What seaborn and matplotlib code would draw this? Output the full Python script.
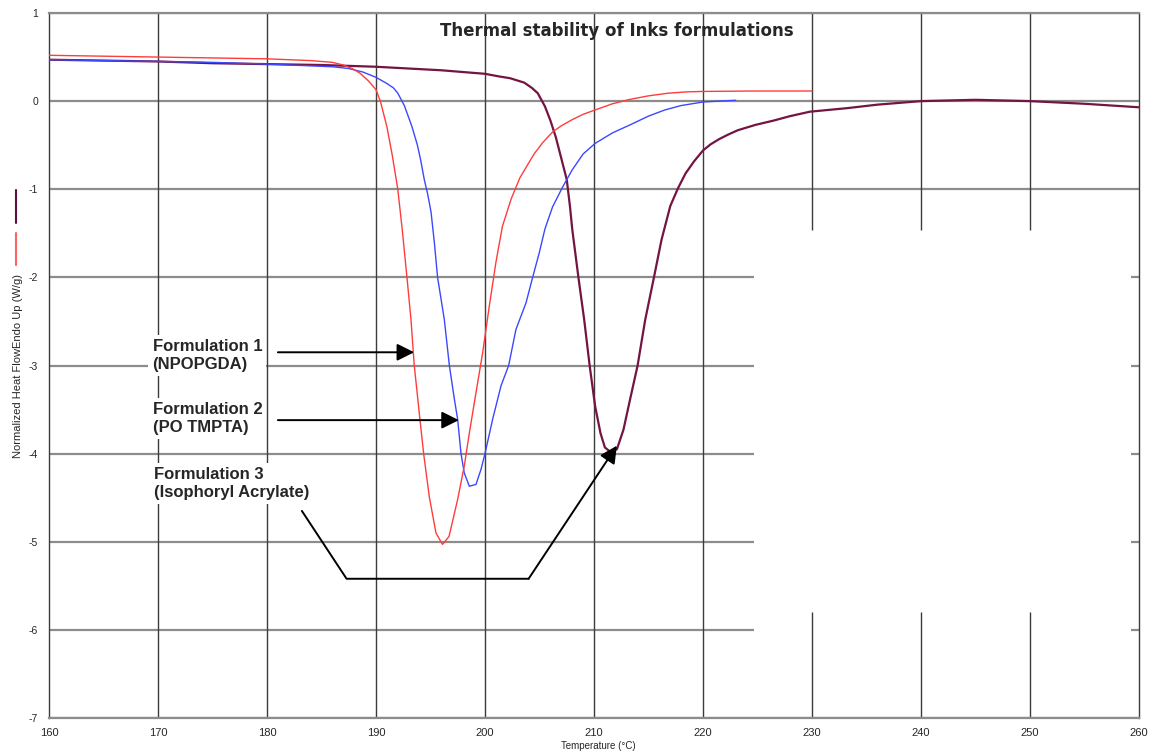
import numpy as np
import pandas as pd
import matplotlib
matplotlib.use("Agg")
import matplotlib.pyplot as plt
from matplotlib.lines import Line2D
import seaborn as sns

# ---------------- data ----------------
f1_temp = [160, 165, 170, 175, 180, 184, 186, 187, 187.8, 188.5, 189.3, 190.0, 190.4,
           191.0, 191.5, 192.0, 192.4, 192.84, 193.21, 193.51, 193.97, 194.37, 194.89,
           195.5, 196.1, 196.7, 197.49, 198.1, 198.56, 199.17, 199.78, 200.39, 201.0,
           201.6, 202.4, 203.2, 204.5, 205.3, 206.2, 207.0, 208.0, 209.0, 210.1, 211.7,
           213.3, 215.0, 216.8, 218.5, 220.0, 225.0, 230.0]
f1_flow = [0.52, 0.51, 0.50, 0.49, 0.48, 0.46, 0.44, 0.41, 0.37, 0.32, 0.23, 0.13, 0.0,
           -0.29, -0.62, -1.0, -1.45, -2.0, -2.48, -3.0, -3.54, -4.0, -4.49,
           -4.9, -5.03, -4.94, -4.52, -4.14, -3.77, -3.31, -2.86, -2.33, -1.83,
           -1.42, -1.11, -0.87, -0.6, -0.47, -0.35, -0.28, -0.21, -0.15, -0.10, -0.03,
           0.02, 0.06, 0.09, 0.105, 0.11, 0.115, 0.115]

f2_temp = [160, 165, 170, 175, 180, 184, 186, 187.5, 188.8, 190.0, 191.0, 191.6, 192.0,
           192.6, 193.3, 193.8, 194.1, 194.43, 194.75, 195.05, 195.35, 195.65, 196.27,
           196.73, 197.2, 197.49, 197.8, 198.1, 198.56, 199.17, 199.63, 200.0, 200.7,
           201.47, 202.17, 202.84, 203.76, 204.37, 204.98, 205.5, 206.2, 207.1, 208.0,
           209.0, 210.1, 211.7, 213.3, 215.0, 216.5, 218.0, 220.0, 223.0]
f2_flow = [0.47, 0.46, 0.45, 0.44, 0.42, 0.40, 0.39, 0.37, 0.33, 0.27, 0.20, 0.15, 0.09,
           -0.05, -0.29, -0.5, -0.67, -0.89, -1.06, -1.26, -1.6, -2.0, -2.48,
           -3.0, -3.39, -3.61, -4.0, -4.22, -4.37, -4.35, -4.18, -4.0, -3.61,
           -3.23, -3.0, -2.59, -2.29, -2.0, -1.72, -1.45, -1.2, -0.98, -0.78,
           -0.6, -0.48, -0.36, -0.27, -0.17, -0.10, -0.05, -0.01, 0.01]

f3_temp = [160, 165, 170, 175, 180, 185, 190, 193, 196, 198, 200, 201.3, 202.3, 203.6,
           204.3, 204.84, 205.5, 206.0, 206.5, 207.0, 207.5, 207.8, 208.0, 208.57,
           209.1, 209.6, 210.1, 210.6, 211.0, 211.5, 212.1, 212.7, 213.3, 214.0, 214.7,
           215.5, 216.2, 217.0, 217.7, 218.4, 219.2, 220.0, 220.7, 221.5, 222.3, 223.2,
           224.8, 226.5, 228.0, 229.8, 233.2, 236.0, 240.0, 245.0, 250.0, 255.0, 260.0]
f3_flow = [0.47, 0.46, 0.45, 0.43, 0.42, 0.41, 0.39, 0.37, 0.35, 0.33, 0.31, 0.28, 0.26, 0.21,
           0.15, 0.09, -0.06, -0.22, -0.41, -0.65, -0.89, -1.2, -1.45, -2.0,
           -2.48, -3.0, -3.46, -3.77, -3.93, -3.98, -3.95, -3.73, -3.39, -3.0, -2.48,
           -2.0, -1.57, -1.19, -0.99, -0.82, -0.68, -0.56, -0.49, -0.43, -0.38, -0.33,
           -0.27, -0.22, -0.17, -0.12, -0.08, -0.04, 0.0, 0.015, 0.0, -0.03, -0.07]

x_ticks = [160, 170, 180, 190, 200, 210, 220, 230, 240, 250, 260]
y_ticks = [1, 0, -1, -2, -3, -4, -5, -6, -7]

title = "Thermal stability of Inks formulations"
x_label = "Temperature (°C)"
y_label = "Normalized Heat FlowEndo Up (W/g)"
labels = ["Formulation 1\n(NPOPGDA)", "Formulation 2\n(PO TMPTA)",
          "Formulation 3\n(Isophoryl Acrylate)"]

# ---------------- figure ----------------
sns.set_style("white")
plt.rcParams['font.family'] = ['Liberation Sans', 'DejaVu Sans']

W, H = 1151, 752
fig = plt.figure(figsize=(W / 100, H / 100), dpi=100)
ax = fig.add_axes([49 / W, 34 / H, 1090 / W, 705 / H])

ax.set_xlim(160, 260)
ax.set_ylim(-7, 1)

# grid (drawn by hand to reproduce the gaps of the original)
hgrid = '#8c8c8c'
vgrid = '#3c3c3c'
for y in y_ticks:
    if y in (1, 0, -1, -7):
        ax.hlines(y, 160, 260, color=hgrid, lw=1.6, zorder=1)
    else:
        ax.hlines(y, 160, 224.7, color=hgrid, lw=1.6, zorder=1)
        ax.hlines(y, 259.3, 260, color=hgrid, lw=1.6, zorder=1)
for x in x_ticks[1:-1]:
    if x <= 220:
        ax.vlines(x, -7, 1, color=vgrid, lw=1.0, zorder=2)
    else:
        ax.vlines(x, -1.46, 1, color=vgrid, lw=1.0, zorder=2)
        ax.vlines(x, -7, -5.8, color=vgrid, lw=1.0, zorder=2)

for side in ('left', 'right'):
    ax.spines[side].set_color(vgrid)
    ax.spines[side].set_linewidth(1.0)
for side in ('top', 'bottom'):
    ax.spines[side].set_color(hgrid)
    ax.spines[side].set_linewidth(1.6)

# curves
series = [
    (f1_temp, f1_flow, '#ff3c3c', 1.0, 6),
    (f2_temp, f2_flow, '#3a48ff', 1.0, 5),
    (f3_temp, f3_flow, '#741443', 1.6, 4),
]
for xs, ys, col, lw, z in series:
    df = pd.DataFrame({'T': xs, 'HF': ys})
    sns.lineplot(data=df, x='T', y='HF', ax=ax, color=col, linewidth=lw,
                 estimator=None, sort=False, legend=False, zorder=z)

ax.set_xticks(x_ticks)
ax.set_yticks(y_ticks)
ax.set_xticklabels([str(v) for v in x_ticks], fontsize=8)
ax.set_yticklabels([str(v) for v in y_ticks], fontsize=7.5)
ax.tick_params(axis='both', direction='out', length=3, width=0.8, color='#555555')
ax.tick_params(axis='x', pad=4)
ax.tick_params(axis='y', pad=5)

ax.set_xlabel(x_label, fontsize=7)
ax.xaxis.set_label_coords((598 - 49) / 1090, (718 - 741) / 705)
ax.set_ylabel(y_label, fontsize=8)
ax.yaxis.set_label_coords((22.7 - 49) / 1090, 0.5)

# title
ax.text(0.521, 0.974, title, transform=ax.transAxes, ha='center', va='center',
        fontsize=12, fontweight='bold', family=['DejaVu Sans'], zorder=10)

# annotations
txt_kw = dict(fontsize=12, fontweight='bold', ha='left', va='center', linespacing=1.25,
              bbox=dict(fc='white', ec='none', pad=3), zorder=8)
ax.text(169.5, -2.89, labels[0], **txt_kw)
ax.text(169.5, -3.60, labels[1], **txt_kw)
ax.text(169.6, -4.34, labels[2], **txt_kw)

arrow_kw = dict(arrowstyle='-|>,head_length=0.4,head_width=0.2', color='black', lw=1.4,
                mutation_scale=26, shrinkA=0, shrinkB=0)
ax.annotate('', xy=(193.5, -2.85), xytext=(181.0, -2.85), arrowprops=arrow_kw, zorder=9)
ax.annotate('', xy=(197.6, -3.62), xytext=(181.0, -3.62), arrowprops=arrow_kw, zorder=9)
ax.plot([183.2, 187.3, 204.0], [-4.65, -5.42, -5.42], color='black', lw=1.4, zorder=9)
ax.annotate('', xy=(212.1, -3.91), xytext=(204.0, -5.42), arrowprops=arrow_kw, zorder=9)

# small legend strokes at the far left
fig.add_artist(Line2D([15.7 / W, 15.7 / W], [1 - 190 / H, 1 - 223 / H],
                      color='#5a1040', lw=1.5, transform=fig.transFigure))
fig.add_artist(Line2D([15.7 / W, 15.7 / W], [1 - 233 / H, 1 - 265 / H],
                      color='#ff6060', lw=1.5, transform=fig.transFigure))

fig.savefig("out.png", dpi=100)
